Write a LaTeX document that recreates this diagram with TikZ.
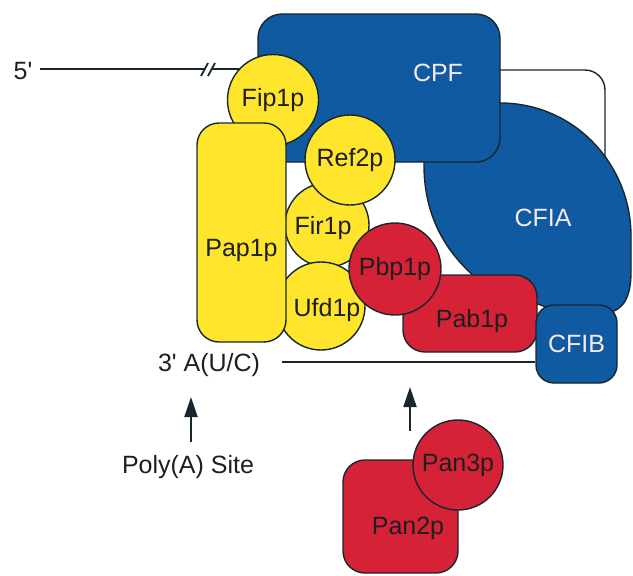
\documentclass[tikz,border=0pt]{standalone}
\usepackage{fontspec}
\setmainfont{Liberation Sans}
\usetikzlibrary{arrows.meta}

\definecolor{cpfblue}{RGB}{15,90,160}
\definecolor{protyellow}{RGB}{255,230,44}
\definecolor{protred}{RGB}{214,34,54}
\definecolor{edgeink}{RGB}{24,38,46}
\definecolor{paletext}{RGB}{246,234,240}
\definecolor{inktext}{RGB}{28,30,32}

\begin{document}
\begin{tikzpicture}[x=1pt,y=-1pt,
  every node/.style={font=\fontsize{25}{30}\selectfont, text=inktext, inner sep=0pt},
  outline/.style={draw=edgeink, line width=1.4pt},
  rna/.style={draw=edgeink, line width=1.8pt},
  box/.style={outline, rectangle, rounded corners=#1},
  box/.default=22pt,
  ball/.style={outline, circle, minimum size=#1},
  ball/.default=90pt,
  bluepart/.style={fill=cpfblue},
  yellowpart/.style={fill=protyellow},
  redpart/.style={fill=protred},
  whitelabel/.style={text=paletext},
  arrowup/.style={draw=edgeink, line width=2pt, -{Triangle[length=20pt,width=13pt]}}
]
\useasboundingbox (0,0) rectangle (633,576);

% thin strand running round behind CFIA
\coordinate (cpfRight) at (500,70);
\coordinate (loopEnd) at (605,190);
\draw[outline, rounded corners=20pt] (cpfRight) -| (loopEnd);

% CFIA
\path[outline, bluepart]
  (424,125) -- (424,165)
  .. controls (424,215) and (445,255) .. (485,285)
  -- (560,312) -- (606,313)
  .. controls (624,311) and (631,296) .. (631,272)
  -- (631,236)
  .. controls (631,165) and (575,103) .. (500,103)
  -- (440,103)
  .. controls (430,103) and (424,112) .. (424,125) -- cycle;
\node[whitelabel] (cfiaText) at (543,218) {CFIA};

% CPF
\node[box=24pt, bluepart, minimum width=242pt, minimum height=148pt] (cpf) at (379,88) {};
\node[whitelabel] (cpfText) at (438,73) {CPF};

% 5' end of the RNA with a break
\node (fivePrime) at (23,71) {5\textquotesingle};
\coordinate (rnaFiveStart) at (40,69);
\coordinate (breakL) at (205,69);
\coordinate (breakR) at (211,69);
\coordinate (fipJoin) at (245,69);
\draw[rna] (rnaFiveStart) -- (breakL);
\draw[rna] (breakR) -- (fipJoin);
\draw[rna] ([shift={(-4,7)}]breakL) coordinate (slashA1) -- ([shift={(3,-6)}]breakL) coordinate (slashA2);
\draw[rna] ([shift={(-3,7)}]breakR) coordinate (slashB1) -- ([shift={(4,-6)}]breakR) coordinate (slashB2);

% yellow subunits
\node[ball=91pt, yellowpart] (fip1p) at (273,100) {Fip1p};
\node[ball=84pt, yellowpart] (fir1p) at (327,225) {};
\node (fir1pText) at (323,228) {Fir1p};
\node[ball=88pt, yellowpart] (ufd1p) at (321,306) {};
\node (ufd1pText) at (327,310) {Ufd1p};
\node[box=22pt, yellowpart, minimum width=89pt, minimum height=219pt] (pap1p) at (241.5,232.5) {};
\node (pap1pText) at (241.5,250) {Pap1p};
\node[ball=90pt, yellowpart] (ref2p) at (350,160) {Ref2p};

% poly(A) binding proteins and CFIB
\node[box=22pt, redpart, minimum width=134pt, minimum height=77pt] (pab1p) at (470,313.5) {};
\node (pab1pText) at (472,321) {Pab1p};
\node[ball=92pt, redpart] (pbp1p) at (395,269) {Pbp1p};
\node[box=18pt, bluepart, whitelabel, minimum width=81pt, minimum height=78pt] (cfib) at (576.5,344) {CFIB};

% 3' end of the RNA
\node (threePrime) at (209,365) {3\textquotesingle\ A(U/C)};
\coordinate (rnaThreeStart) at (282,362);
\draw[rna] (rnaThreeStart) -- (rnaThreeStart -| cfib.west);

% cleavage site arrow
\node (polyA) at (188,467) {Poly(A) Site};
\coordinate (polyTail) at (191,442);
\coordinate (polyTip) at (191,397);
\draw[arrowup] (polyTail) -- (polyTip);

% deadenylase arrow
\coordinate (panTail) at (410,431);
\coordinate (panTip) at (410,387);
\draw[arrowup] (panTail) -- (panTip);

% Pan2p / Pan3p
\node[box=22pt, redpart, minimum width=115pt, minimum height=113pt] (pan2p) at (400.5,516.5) {};
\node (pan2pText) at (408,528) {Pan2p};
\node[ball=90pt, redpart] (pan3p) at (458,465) {Pan3p};
\end{tikzpicture}
\end{document}
